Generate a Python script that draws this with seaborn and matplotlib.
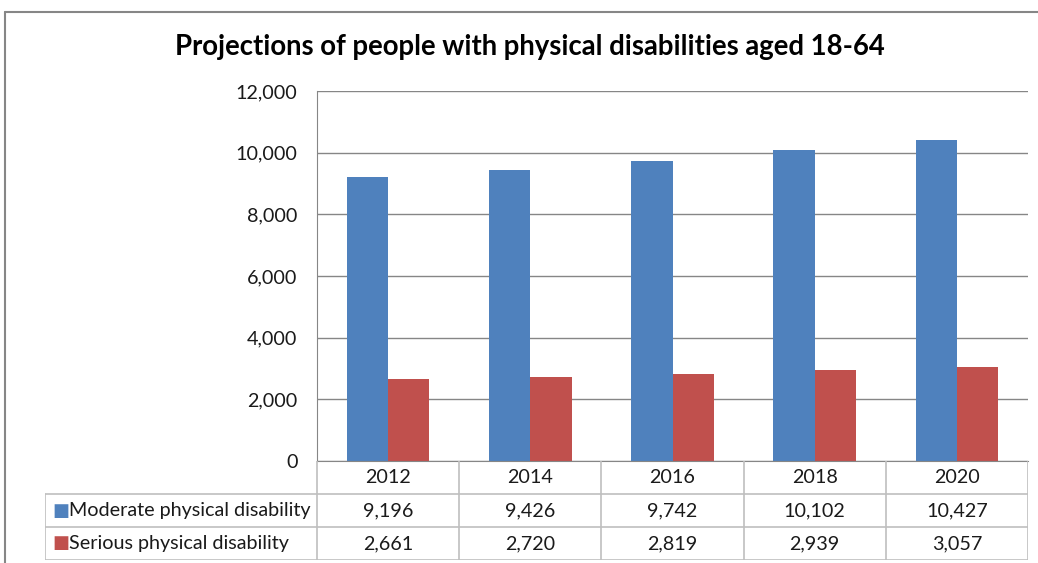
import numpy as np
import pandas as pd
import matplotlib.pyplot as plt
import seaborn as sns

years = ["2012", "2014", "2016", "2018", "2020"]
moderate = [9196, 9426, 9742, 10102, 10427]
serious = [2661, 2720, 2819, 2939, 3057]
series = ["Moderate physical disability", "Serious physical disability"]
colors = ["#4F81BD", "#C0504D"]
yticks = [0, 2000, 4000, 6000, 8000, 10000, 12000]

sns.set_style("white")
plt.rcParams['font.family'] = ['Lato', 'DejaVu Sans']

df = pd.DataFrame({
    "year": years * 2,
    "value": moderate + serious,
    "series": [series[0]] * 5 + [series[1]] * 5,
})

W, H = 1038, 563
fig = plt.figure(figsize=(W / 100, H / 100), dpi=100)

def fx(px):
    return px / W

def fy(py):
    return 1 - py / H

# main plot area
L, R, T, B = 317, 1028, 91, 461
ax = fig.add_axes([fx(L), fy(B), fx(R) - fx(L), fy(T) - fy(B)])
sns.barplot(data=df, x="year", y="value", hue="series", palette=colors,
            width=0.58, saturation=1, linewidth=0, edgecolor="none",
            ax=ax, legend=False)
ax.set_ylim(0, 12000)
ax.set_xlim(-0.5, 4.5)
ax.set_yticks(yticks)
ax.set_yticklabels([f"{v:,}" for v in yticks], fontsize=14.2, color="#1a1a1a")
ax.set_xticks([])
ax.set_xlabel("")
ax.set_ylabel("")
ax.tick_params(axis="y", length=0, pad=14)
ax.grid(axis="y", color="#868686", linewidth=1)
ax.set_axisbelow(True)
for s in ["top", "right"]:
    ax.spines[s].set_visible(False)
ax.spines["left"].set_color("#868686")
ax.spines["bottom"].set_color("#868686")

# data table below the plot
TL, TB = 45, 560
legend_w = (L - TL) / ((R - L) / 5)
tax = fig.add_axes([fx(TL), fy(TB), fx(R) - fx(TL), fy(B) - fy(TB)])
tax.set_xlim(-0.5 - legend_w, 4.5)
tax.set_ylim(3, 0)
tax.axis("off")
gc = "#BFBFBF"
x0 = -0.5 - legend_w
for i in range(6):
    tax.plot([i - 0.5, i - 0.5], [0, 3], color=gc, lw=1.2)
for r in [1, 2, 3]:
    tax.plot([x0, 4.5], [r, r], color=gc, lw=1.2)
tax.plot([x0, x0], [1, 3], color=gc, lw=1.2)
for i, yr in enumerate(years):
    tax.text(i, 0.5, yr, ha="center", va="center", fontsize=14.2, color="#1a1a1a")
for r, (name, vals, c) in enumerate(zip(series, [moderate, serious], colors)):
    tax.text(x0 + 0.05, r + 1.5, "\u25A0", ha="left", va="center", fontsize=13,
             color=c, family=["DejaVu Sans"])
    tax.text(x0 + 0.17, r + 1.5, name, ha="left", va="center", fontsize=14.2,
             color="#1a1a1a")
    for i, v in enumerate(vals):
        tax.text(i, r + 1.5, f"{v:,}", ha="center", va="center", fontsize=14.2,
                 color="#1a1a1a")

fig.text(fx(530), fy(47), "Projections of people with physical disabilities aged 18-64",
         ha="center", va="center", fontsize=19.8, fontweight="bold", color="black")

# outer chart border (cut off at right and bottom)
fig.add_artist(plt.Line2D([fx(5), fx(1038)], [fy(12), fy(12)], color="#868686", lw=1.5))
fig.add_artist(plt.Line2D([fx(5), fx(5)], [fy(12), fy(563)], color="#868686", lw=1.5))

fig.savefig("out.png", dpi=100)
